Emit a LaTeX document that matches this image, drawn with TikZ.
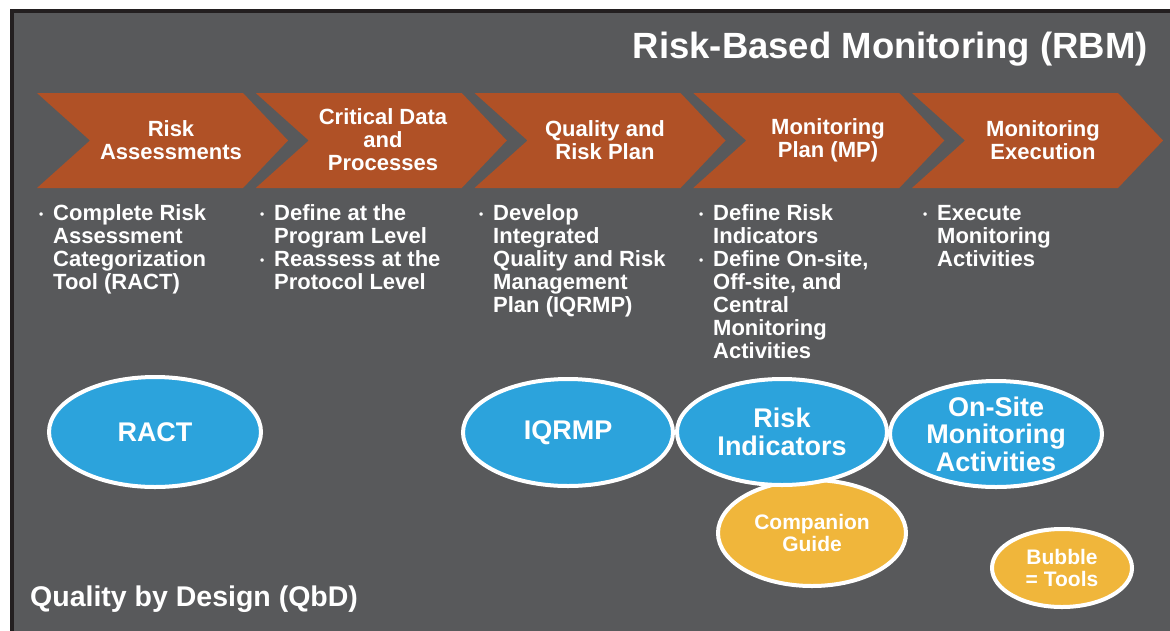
\documentclass[tikz,border=0pt]{standalone}
\usepackage{fontspec}
\setmainfont{Liberation Sans}
\usetikzlibrary{shapes.geometric}

\definecolor{rbmgray}{HTML}{58595B}
\definecolor{rbmframe}{HTML}{231F20}
\definecolor{rbmorange}{HTML}{B05126}
\definecolor{rbmblue}{HTML}{2CA3DC}
\definecolor{rbmgold}{HTML}{F0B63B}

\newcommand{\bul}{\makebox[14pt][l]{\raisebox{1.5pt}{\fontsize{12}{12}\selectfont\textbullet}}}

\tikzset{
  steptext/.style={text=white, font=\bfseries\fontsize{22}{23}\selectfont, align=center, inner sep=0pt},
  bullets/.style={text=white, font=\bfseries\fontsize{22}{23}\selectfont, inner sep=0pt, anchor=base west},
  tool/.style={ellipse, draw=white, line width=4pt, fill=rbmblue, text=white, inner sep=-4pt, align=center, font=\bfseries\fontsize{27}{27.5}\selectfont},
  guide/.style={tool, fill=rbmgold, font=\bfseries\fontsize{21}{22}\selectfont},
}

\begin{document}
\begin{tikzpicture}[x=1pt, y=-1pt]
  \useasboundingbox (0,0) rectangle (1170,630);
  \fill[white] (0,0) rectangle (1170,630);
  \filldraw[fill=rbmgray, draw=rbmframe, line width=4pt] (12,11) rectangle (1190,650);

  % chevrons
  \foreach \x in {37,255.75,474.5,693.25,912}
    \fill[rbmorange] (\x,93) -- ++(206,0) -- ++(45,47.5) -- ++(-45,47.5) -- ++(-206,0) -- ++(53,-47.5) -- cycle;

  \node (title) [anchor=base east, inner sep=0pt, text=white, font=\bfseries\fontsize{36.5}{36.5}\selectfont] at (1148,58) {Risk-Based Monitoring (RBM)};
  \node (qbd) [anchor=base west, inner sep=0pt, text=white, font=\bfseries\fontsize{28.5}{28.5}\selectfont] at (30,606) {Quality by Design (QbD)};

  \node (assess) [steptext] at (171,140.5) {Risk\\Assessments};
  \node (critical) [steptext] at (383,140) {Critical Data\\and\\Processes};
  \node (qrplan) [steptext] at (605,140.5) {Quality and\\Risk Plan};
  \node (mplan) [steptext] at (828,140.5) {Monitoring\\Plan (MP)};
  \node (mexec) [steptext] at (1043,140.5) {Monitoring\\Execution};

  % bullet lists
  \node (assesslist) [bullets] at (39,220) {\begin{tabular}[t]{@{}l@{}l@{}}
    \bul & Complete Risk\\ & Assessment\\ & Categorization\\ & Tool (RACT)\end{tabular}};
  \node (criticallist) [bullets] at (260,220) {\begin{tabular}[t]{@{}l@{}l@{}}
    \bul & Define at the\\ & Program Level\\ \bul & Reassess at the\\ & Protocol Level\end{tabular}};
  \node (qrplanlist) [bullets] at (479,220) {\begin{tabular}[t]{@{}l@{}l@{}}
    \bul & Develop\\ & Integrated\\ & Quality and Risk\\ & Management\\ & Plan (IQRMP)\end{tabular}};
  \node (mplanlist) [bullets] at (699,220) {\begin{tabular}[t]{@{}l@{}l@{}}
    \bul & Define Risk\\ & Indicators\\ \bul & Define On-site,\\ & Off-site, and\\ & Central\\ & Monitoring\\ & Activities\end{tabular}};
  \node (mexeclist) [bullets] at (923,220) {\begin{tabular}[t]{@{}l@{}l@{}}
    \bul & Execute\\ & Monitoring\\ & Activities\end{tabular}};

  % tool bubbles
  \node (ract) [tool, minimum width=212pt, minimum height=110pt] at (155,432) {RACT};
  \node (companion) [guide, minimum width=188pt, minimum height=106pt] at (812,533) {Companion\\Guide};
  \node (iqrmp) [tool, minimum width=210pt, minimum height=107pt] at (568,432.5) {IQRMP};
  \node (riskind) [tool, minimum width=210pt, minimum height=106pt] at (782,432) {Risk\\Indicators};
  \node (onsite) [tool, minimum width=212pt, minimum height=106pt] at (996,434) {On-Site\\Monitoring\\Activities};
  \node (bubble) [guide, minimum width=140pt, minimum height=78pt] at (1062,568) {Bubble\\= Tools};
\end{tikzpicture}
\end{document}
